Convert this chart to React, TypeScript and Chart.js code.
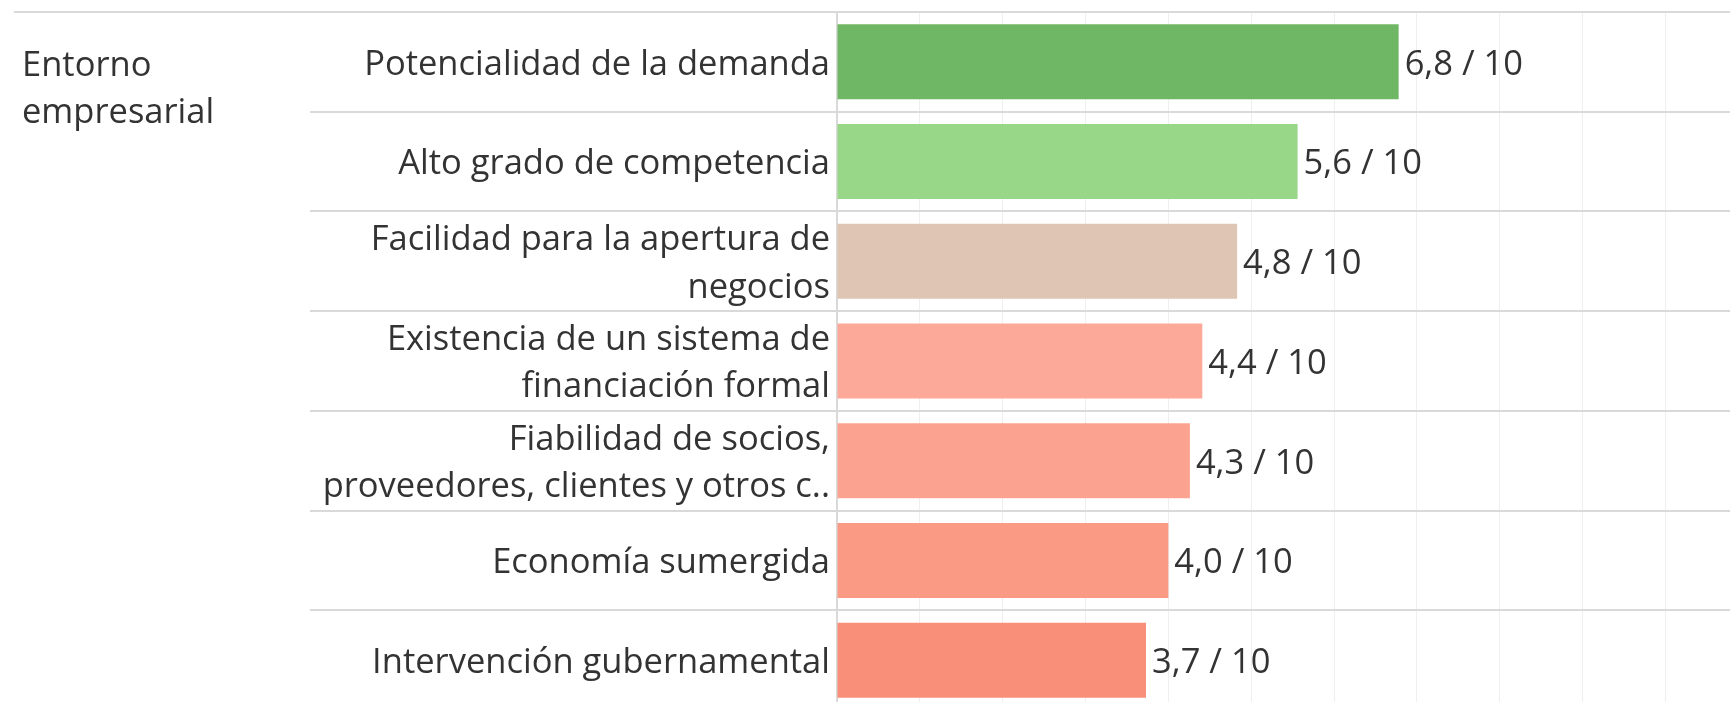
import React, { useEffect, useRef } from "react";
import { Chart, registerables } from "chart.js";

Chart.register(...registerables);

const groupLabel = ["Entorno", "empresarial"];
const categories: (string | string[])[] = [
  "Potencialidad de la demanda",
  "Alto grado de competencia",
  ["Facilidad para la apertura de", "negocios"],
  ["Existencia de un sistema de", "financiación formal"],
  ["Fiabilidad de socios,", "proveedores, clientes y otros c.."],
  "Economía sumergida",
  "Intervención gubernamental",
];
const scores = [6.78, 5.56, 4.83, 4.41, 4.26, 4.0, 3.73];
const scoreMax = 10;
const barColors = ["#70b765", "#98d688", "#dfc6b4", "#fca99a", "#fba390", "#fa9984", "#f98f79"];

const FONT = "'Open Sans'";
const FS = 34.5;
const TEXT = "#333333";

const W = 1730;
const H = 710;
const AXIS_X = 837;
const SEP_X = 310;

export default function App() {
  const ref = useRef<HTMLCanvasElement | null>(null);
  useEffect(() => {
    if (!ref.current) return;
    const decor = {
      id: "decor",
      afterDraw(chart: any) {
        const ctx = chart.ctx;
        const area = chart.chartArea;
        ctx.save();
        ctx.strokeStyle = "#d9d9d9";
        ctx.lineWidth = 2;
        ctx.beginPath();
        ctx.moveTo(14, area.top);
        ctx.lineTo(W, area.top);
        ctx.stroke();
        ctx.fillStyle = TEXT;
        ctx.font = `${FS}px ${FONT}`;
        ctx.textAlign = "left";
        ctx.textBaseline = "alphabetic";
        groupLabel.forEach((t, i) => ctx.fillText(t, 22, 76 + i * 47));
        ctx.restore();
      },
      afterDatasetsDraw(chart: any) {
        const ctx = chart.ctx;
        const meta = chart.getDatasetMeta(0);
        ctx.save();
        ctx.fillStyle = TEXT;
        ctx.font = `${FS}px ${FONT}`;
        ctx.textAlign = "left";
        ctx.textBaseline = "middle";
        meta.data.forEach((el: any, i: number) => {
          const txt = `${scores[i].toFixed(1).replace(".", ",")} / ${scoreMax}`;
          ctx.fillText(txt, el.x + 6, el.y + 3);
        });
        ctx.restore();
      },
    };
    const chart = new Chart(ref.current, {
      type: "bar",
      data: {
        labels: categories,
        datasets: [
          {
            data: scores,
            backgroundColor: barColors,
            borderWidth: 0,
            categoryPercentage: 1,
            barPercentage: 0.752,
          },
        ],
      },
      options: {
        indexAxis: "y",
        animation: false,
        responsive: false,
        devicePixelRatio: 1,
        layout: { padding: { top: 12, left: 0, right: 0, bottom: 0 } },
        plugins: { legend: { display: false }, tooltip: { enabled: false } },
        scales: {
          x: {
            type: "linear",
            min: 0,
            max: 10.78,
            ticks: { display: false, stepSize: 1 },
            grid: {
              drawTicks: false,
              lineWidth: 1,
              color: (c: any) =>
                c.tick && Number.isInteger(c.tick.value) && c.tick.value > 0 ? "#efefef" : "rgba(0,0,0,0)",
            },
            border: { display: false },
            afterFit: (s: any) => {
              s.height = 0;
            },
          },
          y: {
            type: "category",
            grid: {
              offset: true,
              color: "#d9d9d9",
              lineWidth: 2,
              drawTicks: true,
              tickLength: AXIS_X - SEP_X,
            },
            border: { display: true, color: "#d9d9d9", width: 2 },
            ticks: {
              padding: -(AXIS_X - SEP_X - 7),
              labelOffset: 3,
              color: TEXT,
              font: { family: FONT, size: FS, lineHeight: 1.37 },
              autoSkip: false,
            },
            afterFit: (s: any) => {
              s.width = AXIS_X;
            },
          },
        },
      },
      plugins: [decor],
    } as any);
    return () => chart.destroy();
  }, []);
  return (
    <canvas
      ref={ref}
      width={W}
      height={H}
      style={{ position: "fixed", left: 0, top: 0, width: W, height: H, background: "#fff" }}
    />
  );
}
